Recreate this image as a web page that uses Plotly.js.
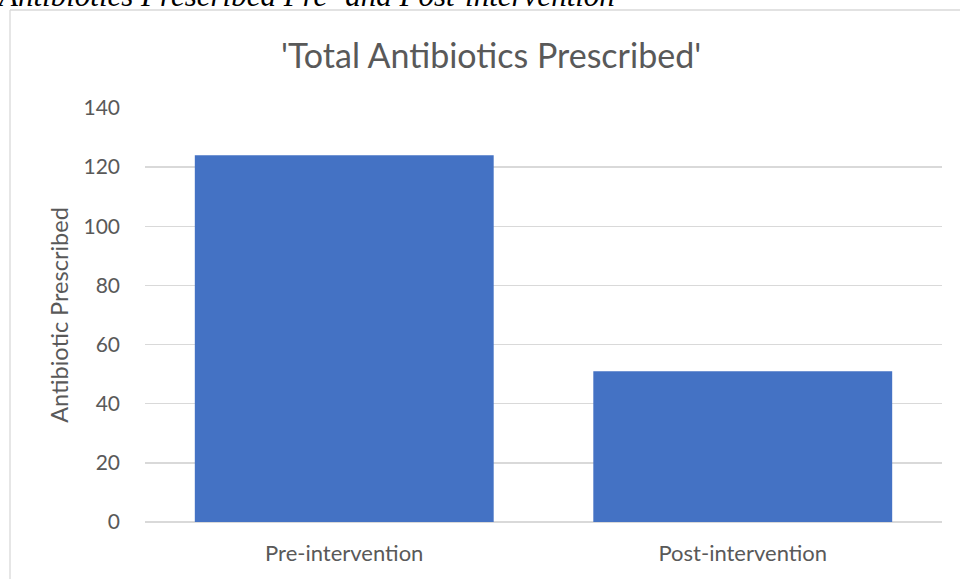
<!DOCTYPE html>
<html><head><meta charset="utf-8">
<script src="https://cdn.plot.ly/plotly-3.0.1.min.js"></script>
<style>html,body{margin:0;padding:0;background:#fff;}#chart{width:960px;height:579px;}</style>
</head><body><div id="chart"></div>
<script>
const categories = ['Pre-intervention', 'Post-intervention'];
const antibioticsPrescribed = [124, 51];
const yTickValues = [0, 20, 40, 60, 80, 100, 120, 140];
const chartTitle = "'Total Antibiotics Prescribed'";
const yAxisTitle = 'Antibiotic Prescribed';
const captionText = 'Antibiotics Prescribed Pre- and Post-intervention';

const L = 145, R = 18, T = 108, B = 57, W = 960, H = 579;
const pw = W - L - R, ph = H - T - B;
const px = x => (x - L) / pw;
const py = y => (H - B - y) / ph;

const trace = {
  type: 'bar', x: categories, y: antibioticsPrescribed,
  marker: {color: '#4472C4'}, hoverinfo: 'none'
};
const layout = {
  width: W, height: H,
  margin: {l: L, r: R, t: T, b: B, pad: 0},
  paper_bgcolor: '#fff', plot_bgcolor: '#fff',
  font: {family: 'Lato, "Liberation Sans", sans-serif', color: '#595959', size: 22},
  bargap: 0.25, showlegend: false,
  xaxis: {showgrid: false, showline: false, zeroline: false, ticks: '', ticklabelstandoff: 16,
    tickfont: {size: 22, color: '#595959'}},
  yaxis: {range: [0, 140], tickvals: yTickValues, showgrid: true, gridcolor: '#d9d9d9', gridwidth: 1.3,
    zeroline: true, zerolinecolor: '#d9d9d9', zerolinewidth: 1.3, showline: false, ticks: '',
    ticklabelstandoff: 24, tickfont: {size: 21, color: '#595959'},
    title: {text: yAxisTitle, standoff: 8, font: {size: 23.5, color: '#595959'}}},
  annotations: [
    {text: chartTitle, xref: 'paper', yref: 'paper', x: px(491), y: py(54), xanchor: 'center', yanchor: 'middle',
     showarrow: false, font: {size: 34, color: '#595959'}},
    {text: '<i>' + captionText + '</i>', xref: 'paper', yref: 'paper', x: px(-5), y: py(15), xanchor: 'left', yanchor: 'bottom',
     showarrow: false, font: {family: '"Liberation Serif", "DejaVu Serif", serif', size: 31, color: '#000'}}
  ],
  shapes: [
    {type: 'line', xref: 'paper', yref: 'paper', x0: px(10), x1: px(10), y0: py(10), y1: py(590), line: {color: '#d9d9d9', width: 1.3}},
    {type: 'line', xref: 'paper', yref: 'paper', x0: px(10), x1: px(970), y0: py(10), y1: py(10), line: {color: '#d9d9d9', width: 1.3}}
  ]
};
Plotly.newPlot('chart', [trace], layout, {displayModeBar: false, staticPlot: true});
</script></body></html>
